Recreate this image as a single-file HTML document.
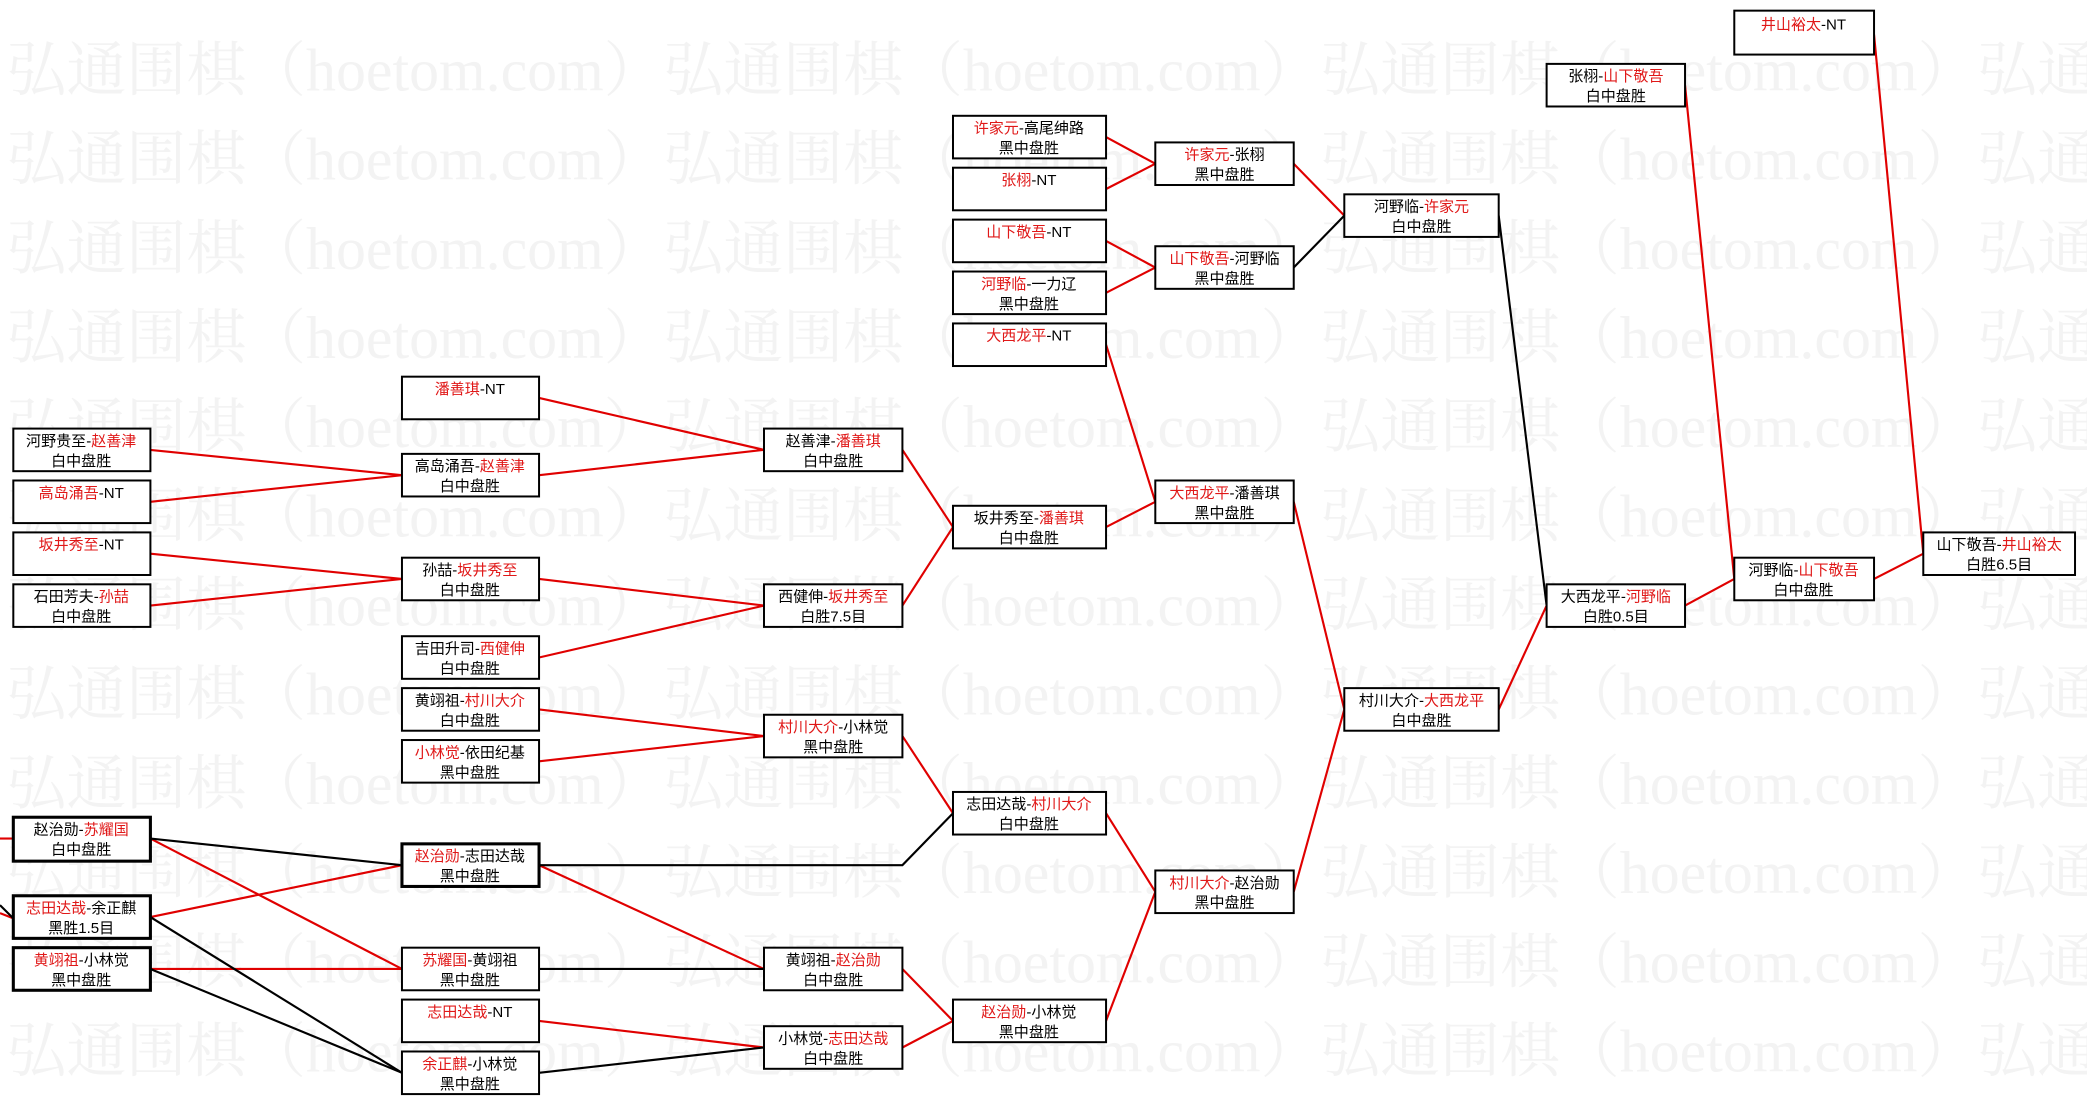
<!DOCTYPE html>
<html><head><meta charset="utf-8"><style>
html,body{margin:0;padding:0;background:#fff;}
svg{display:block;}
text{font-family:"Liberation Serif","Noto Serif CJK SC",serif;}
.b text,.t{font-family:"Liberation Sans","Noto Sans CJK SC",sans-serif;font-size:11.3px;fill:#000;text-anchor:middle;}
.r{fill:#e01818;}
.w{font-family:"Liberation Serif","Noto Serif CJK SC",serif;font-size:45px;fill:#f3f3f3;}
</style></head><body>
<svg width="2087" height="1105" viewBox="0 0 1568 830.2" preserveAspectRatio="none" xmlns="http://www.w3.org/2000/svg">
<g class="w">
<text x="5" y="68">弘通围棋（hoetom.com）弘通围棋（hoetom.com）弘通围棋（hoetom.com）弘通</text>
<text x="5" y="135">弘通围棋（hoetom.com）弘通围棋（hoetom.com）弘通围棋（hoetom.com）弘通</text>
<text x="5" y="202">弘通围棋（hoetom.com）弘通围棋（hoetom.com）弘通围棋（hoetom.com）弘通</text>
<text x="5" y="269">弘通围棋（hoetom.com）弘通围棋（hoetom.com）弘通围棋（hoetom.com）弘通</text>
<text x="5" y="336">弘通围棋（hoetom.com）弘通围棋（hoetom.com）弘通围棋（hoetom.com）弘通</text>
<text x="5" y="403">弘通围棋（hoetom.com）弘通围棋（hoetom.com）弘通围棋（hoetom.com）弘通</text>
<text x="5" y="470">弘通围棋（hoetom.com）弘通围棋（hoetom.com）弘通围棋（hoetom.com）弘通</text>
<text x="5" y="537">弘通围棋（hoetom.com）弘通围棋（hoetom.com）弘通围棋（hoetom.com）弘通</text>
<text x="5" y="604">弘通围棋（hoetom.com）弘通围棋（hoetom.com）弘通围棋（hoetom.com）弘通</text>
<text x="5" y="671">弘通围棋（hoetom.com）弘通围棋（hoetom.com）弘通围棋（hoetom.com）弘通</text>
<text x="5" y="738">弘通围棋（hoetom.com）弘通围棋（hoetom.com）弘通围棋（hoetom.com）弘通</text>
<text x="5" y="805">弘通围棋（hoetom.com）弘通围棋（hoetom.com）弘通围棋（hoetom.com）弘通</text>
</g>
<g stroke-width="1.6" fill="none">
<g stroke="#e00000">
<line x1="113" y1="338" x2="302" y2="357"/><line x1="113" y1="377" x2="302" y2="357"/>
<line x1="113" y1="416" x2="302" y2="435"/><line x1="113" y1="455" x2="302" y2="435"/>
<line x1="113" y1="630" x2="302" y2="728"/><line x1="113" y1="689" x2="302" y2="650"/>
<line x1="113" y1="728" x2="302" y2="728"/>
<line x1="0" y1="630" x2="10" y2="630"/><line x1="0" y1="686" x2="10" y2="690"/>
<line x1="405" y1="299" x2="574" y2="338"/><line x1="405" y1="357" x2="574" y2="338"/>
<line x1="405" y1="435" x2="574" y2="455"/><line x1="405" y1="494" x2="574" y2="455"/>
<line x1="405" y1="533" x2="574" y2="553"/><line x1="405" y1="572" x2="574" y2="553"/>
<line x1="405" y1="650" x2="574" y2="728"/><line x1="405" y1="767" x2="574" y2="787"/>
<line x1="678" y1="338" x2="716" y2="396"/><line x1="678" y1="455" x2="716" y2="396"/>
<line x1="678" y1="553" x2="716" y2="611"/>
<line x1="678" y1="728" x2="716" y2="767"/><line x1="678" y1="787" x2="716" y2="767"/>
<line x1="831" y1="103" x2="868" y2="123"/><line x1="831" y1="142" x2="868" y2="123"/>
<line x1="831" y1="181" x2="868" y2="201"/><line x1="831" y1="220" x2="868" y2="201"/>
<line x1="831" y1="259" x2="868" y2="377"/><line x1="831" y1="396" x2="868" y2="377"/>
<line x1="831" y1="611" x2="868" y2="670"/><line x1="831" y1="767" x2="868" y2="670"/>
<line x1="972" y1="123" x2="1010" y2="162"/>
<line x1="972" y1="377" x2="1010" y2="533"/><line x1="972" y1="670" x2="1010" y2="533"/>
<line x1="1126" y1="533" x2="1162" y2="455"/>
<line x1="1266" y1="64" x2="1303" y2="435"/><line x1="1266" y1="455" x2="1303" y2="435"/>
<line x1="1408" y1="26" x2="1445" y2="416"/><line x1="1408" y1="435" x2="1445" y2="416"/>
</g>
<g stroke="#000">
<line x1="113" y1="630" x2="302" y2="650"/><line x1="113" y1="689" x2="302" y2="806"/>
<line x1="113" y1="728" x2="302" y2="806"/><line x1="0" y1="680" x2="10" y2="690"/>
<polyline points="405,650 678,650 716,611"/>
<line x1="405" y1="728" x2="574" y2="728"/><line x1="405" y1="806" x2="574" y2="787"/>
<line x1="972" y1="201" x2="1010" y2="162"/>
<line x1="1126" y1="162" x2="1162" y2="455"/>
</g>
</g>
<g class="b" fill="#fff" stroke="#000" stroke-width="1.5">
<rect x="10" y="322" width="103" height="32"/><rect x="10" y="361" width="103" height="32"/>
<rect x="10" y="400" width="103" height="32"/><rect x="10" y="439" width="103" height="32"/>
<rect x="10" y="614" width="103" height="33" stroke-width="2.3"/><rect x="10" y="673" width="103" height="32" stroke-width="2.3"/>
<rect x="10" y="712" width="103" height="32" stroke-width="2.3"/>
<rect x="302" y="283" width="103" height="32"/><rect x="302" y="341" width="103" height="32"/>
<rect x="302" y="419" width="103" height="32"/><rect x="302" y="478" width="103" height="32"/>
<rect x="302" y="517" width="103" height="32"/><rect x="302" y="556" width="103" height="32"/>
<rect x="302" y="634" width="103" height="32" stroke-width="2.3"/><rect x="302" y="712" width="103" height="32"/>
<rect x="302" y="751" width="103" height="32"/><rect x="302" y="790" width="103" height="32"/>
<rect x="574" y="322" width="104" height="32"/><rect x="574" y="439" width="104" height="32"/>
<rect x="574" y="537" width="104" height="32"/><rect x="574" y="712" width="104" height="32"/>
<rect x="574" y="771" width="104" height="32"/>
<rect x="716" y="87" width="115" height="32"/><rect x="716" y="126" width="115" height="32"/>
<rect x="716" y="165" width="115" height="32"/><rect x="716" y="204" width="115" height="32"/>
<rect x="716" y="243" width="115" height="32"/><rect x="716" y="380" width="115" height="32"/>
<rect x="716" y="595" width="115" height="32"/><rect x="716" y="751" width="115" height="32"/>
<rect x="868" y="107" width="104" height="32"/><rect x="868" y="185" width="104" height="32"/>
<rect x="868" y="361" width="104" height="32"/><rect x="868" y="654" width="104" height="32"/>
<rect x="1010" y="146" width="116" height="32"/><rect x="1010" y="517" width="116" height="32"/>
<rect x="1162" y="48" width="104" height="32"/><rect x="1162" y="439" width="104" height="32"/>
<rect x="1303" y="8" width="105" height="33"/><rect x="1303" y="419" width="105" height="32"/>
<rect x="1445" y="400" width="114" height="32"/>
</g>
<g class="t">
<text class="t" x="61" y="335">河野贵至-<tspan class="r">赵善津</tspan></text><text class="t" x="61" y="350">白中盘胜</text>
<text class="t" x="61" y="374"><tspan class="r">高岛涌吾</tspan>-NT</text>
<text class="t" x="61" y="413"><tspan class="r">坂井秀至</tspan>-NT</text>
<text class="t" x="61" y="452">石田芳夫-<tspan class="r">孙喆</tspan></text><text class="t" x="61" y="467">白中盘胜</text>
<text class="t" x="61" y="627">赵治勋-<tspan class="r">苏耀国</tspan></text><text class="t" x="61" y="642">白中盘胜</text>
<text class="t" x="61" y="686"><tspan class="r">志田达哉</tspan>-余正麒</text><text class="t" x="61" y="701">黑胜1.5目</text>
<text class="t" x="61" y="725"><tspan class="r">黄翊祖</tspan>-小林觉</text><text class="t" x="61" y="740">黑中盘胜</text>

<text class="t" x="353" y="296"><tspan class="r">潘善琪</tspan>-NT</text>
<text class="t" x="353" y="354">高岛涌吾-<tspan class="r">赵善津</tspan></text><text class="t" x="353" y="369">白中盘胜</text>
<text class="t" x="353" y="432">孙喆-<tspan class="r">坂井秀至</tspan></text><text class="t" x="353" y="447">白中盘胜</text>
<text class="t" x="353" y="491">吉田升司-<tspan class="r">西健伸</tspan></text><text class="t" x="353" y="506">白中盘胜</text>
<text class="t" x="353" y="530">黄翊祖-<tspan class="r">村川大介</tspan></text><text class="t" x="353" y="545">白中盘胜</text>
<text class="t" x="353" y="569"><tspan class="r">小林觉</tspan>-依田纪基</text><text class="t" x="353" y="584">黑中盘胜</text>
<text class="t" x="353" y="647"><tspan class="r">赵治勋</tspan>-志田达哉</text><text class="t" x="353" y="662">黑中盘胜</text>
<text class="t" x="353" y="725"><tspan class="r">苏耀国</tspan>-黄翊祖</text><text class="t" x="353" y="740">黑中盘胜</text>
<text class="t" x="353" y="764"><tspan class="r">志田达哉</tspan>-NT</text>
<text class="t" x="353" y="803"><tspan class="r">余正麒</tspan>-小林觉</text><text class="t" x="353" y="818">黑中盘胜</text>

<text class="t" x="626" y="335">赵善津-<tspan class="r">潘善琪</tspan></text><text class="t" x="626" y="350">白中盘胜</text>
<text class="t" x="626" y="452">西健伸-<tspan class="r">坂井秀至</tspan></text><text class="t" x="626" y="467">白胜7.5目</text>
<text class="t" x="626" y="550"><tspan class="r">村川大介</tspan>-小林觉</text><text class="t" x="626" y="565">黑中盘胜</text>
<text class="t" x="626" y="725">黄翊祖-<tspan class="r">赵治勋</tspan></text><text class="t" x="626" y="740">白中盘胜</text>
<text class="t" x="626" y="784">小林觉-<tspan class="r">志田达哉</tspan></text><text class="t" x="626" y="799">白中盘胜</text>

<text class="t" x="773" y="100"><tspan class="r">许家元</tspan>-高尾绅路</text><text class="t" x="773" y="115">黑中盘胜</text>
<text class="t" x="773" y="139"><tspan class="r">张栩</tspan>-NT</text>
<text class="t" x="773" y="178"><tspan class="r">山下敬吾</tspan>-NT</text>
<text class="t" x="773" y="217"><tspan class="r">河野临</tspan>-一力辽</text><text class="t" x="773" y="232">黑中盘胜</text>
<text class="t" x="773" y="256"><tspan class="r">大西龙平</tspan>-NT</text>
<text class="t" x="773" y="393">坂井秀至-<tspan class="r">潘善琪</tspan></text><text class="t" x="773" y="408">白中盘胜</text>
<text class="t" x="773" y="608">志田达哉-<tspan class="r">村川大介</tspan></text><text class="t" x="773" y="623">白中盘胜</text>
<text class="t" x="773" y="764"><tspan class="r">赵治勋</tspan>-小林觉</text><text class="t" x="773" y="779">黑中盘胜</text>

<text class="t" x="920" y="120"><tspan class="r">许家元</tspan>-张栩</text><text class="t" x="920" y="135">黑中盘胜</text>
<text class="t" x="920" y="198"><tspan class="r">山下敬吾</tspan>-河野临</text><text class="t" x="920" y="213">黑中盘胜</text>
<text class="t" x="920" y="374"><tspan class="r">大西龙平</tspan>-潘善琪</text><text class="t" x="920" y="389">黑中盘胜</text>
<text class="t" x="920" y="667"><tspan class="r">村川大介</tspan>-赵治勋</text><text class="t" x="920" y="682">黑中盘胜</text>

<text class="t" x="1068" y="159">河野临-<tspan class="r">许家元</tspan></text><text class="t" x="1068" y="174">白中盘胜</text>
<text class="t" x="1068" y="530">村川大介-<tspan class="r">大西龙平</tspan></text><text class="t" x="1068" y="545">白中盘胜</text>
<text class="t" x="1214" y="61">张栩-<tspan class="r">山下敬吾</tspan></text><text class="t" x="1214" y="76">白中盘胜</text>
<text class="t" x="1214" y="452">大西龙平-<tspan class="r">河野临</tspan></text><text class="t" x="1214" y="467">白胜0.5目</text>
<text class="t" x="1355" y="22"><tspan class="r">井山裕太</tspan>-NT</text>
<text class="t" x="1355" y="432">河野临-<tspan class="r">山下敬吾</tspan></text><text class="t" x="1355" y="447">白中盘胜</text>
<text class="t" x="1502" y="413">山下敬吾-<tspan class="r">井山裕太</tspan></text><text class="t" x="1502" y="428">白胜6.5目</text>
</g>
</svg>
</body></html>
